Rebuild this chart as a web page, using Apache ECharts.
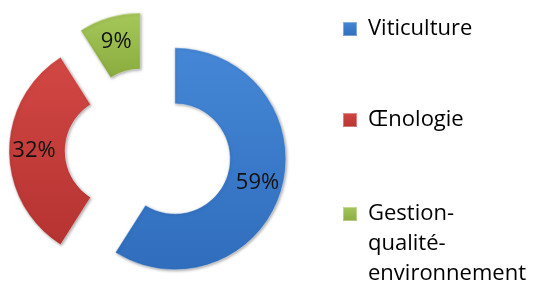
<!DOCTYPE html>
<html>
<head>
<meta charset="utf-8">
<title>Répartition</title>
<style>
html, body { margin: 0; padding: 0; background: #fff; }
#chart { width: 533px; height: 291px; }
</style>
</head>
<body>
<div id="chart"></div>
<script src="https://cdn.jsdelivr.net/npm/echarts@6/dist/echarts.min.js"></script>
<script>
var categories = ['Viticulture', 'Œnologie', 'Gestion-qualité-environnement'];
var shares = [59, 32, 9];
var topColors = ['#4587d6', '#d24744', '#a6c75a'];
var bottomColors = ['#306dbd', '#b53331', '#8aab3d'];

function grad(i) {
	return new echarts.graphic.LinearGradient(0, 0, 0, 1, [
		{ offset: 0, color: topColors[i] },
		{ offset: 1, color: bottomColors[i] }
	]);
}

var pieData = categories.map(function (name, i) {
	return {
		name: name,
		value: shares[i],
		selected: true,
		itemStyle: { color: grad(i) }
	};
});

var font = '"Open Sans", sans-serif';
var lh = 30;

function legendFor(i, top, lead) {
	return {
		data: [categories[i]],
		orient: 'vertical',
		left: 342,
		top: top,
		padding: 0,
		icon: 'rect',
		itemWidth: 14,
		itemHeight: 14,
		selectedMode: false,
		formatter: function (name) {
			// two empty leading lines keep the first line level with the icon
			return lead + name.replace(/-/g, '-\n');
		},
		textStyle: {
			fontFamily: font,
			fontSize: 22,
			color: '#000',
			lineHeight: lh,
			padding: [0, 0, 0, 6]
		}
	};
}

var chart = echarts.init(document.getElementById('chart'));
chart.setOption({
	animation: false,
	backgroundColor: '#fff',
	legend: [
		legendFor(0, 14, ''),
		legendFor(1, 105, ''),
		legendFor(2, 139, '\n\n')
	],
	series: [{
		type: 'pie',
		center: [148, 151],
		radius: [55, 111],
		startAngle: 90,
		clockwise: true,
		selectedMode: 'multiple',
		selectedOffset: 28,
		avoidLabelOverlap: false,
		emphasis: { disabled: true },
		itemStyle: {
			borderColor: 'rgba(255,255,255,0.35)',
			borderWidth: 1,
			shadowColor: 'rgba(0,0,0,0.35)',
			shadowBlur: 3,
			shadowOffsetX: 1,
			shadowOffsetY: 1
		},
		label: {
			show: true,
			position: 'inside',
			formatter: '{c}%',
			fontFamily: font,
			fontSize: 22,
			color: '#111'
		},
		labelLine: { show: false },
		data: pieData
	}]
});
</script>
</body>
</html>
